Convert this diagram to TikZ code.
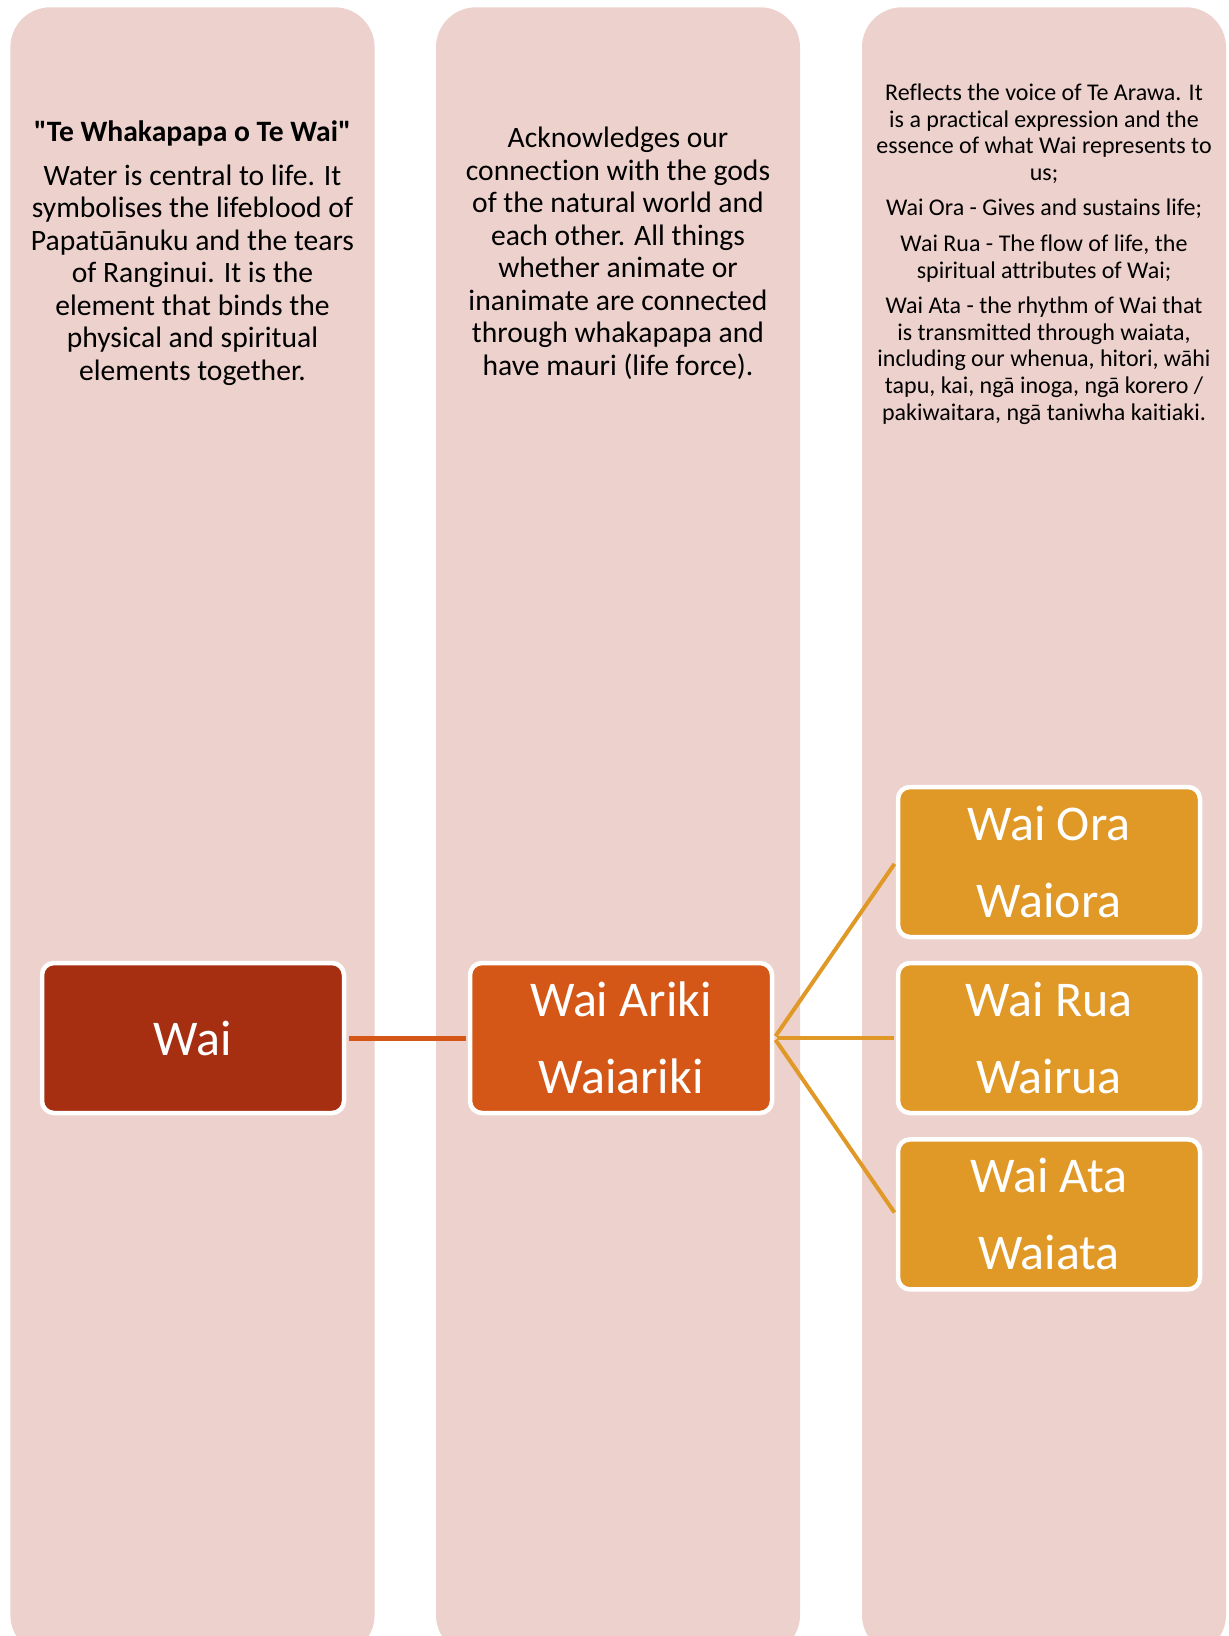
\documentclass[tikz,border=0pt]{standalone}
\usepackage{fontspec}
\newfontfamily\carlito{Carlito}[Ligatures=NoCommon]
\usetikzlibrary{positioning}
\definecolor{colpink}{HTML}{EDD1CC}
\definecolor{waired}{HTML}{A52F10}
\definecolor{arikiorange}{HTML}{D45717}
\definecolor{leafgold}{HTML}{E09827}

\begin{document}
\begin{tikzpicture}[
  x=1pt, y=-1pt,
  column/.style={fill=colpink, rounded corners=40pt},
  coltext/.style={align=center, inner sep=0pt, font=\carlito\fontsize{29.6}{32.5}\selectfont},
  smalltext/.style={align=center, inner sep=0pt, font=\carlito\fontsize{24}{26.6}\selectfont},
  waibox/.style={draw=white, line width=4.5pt, rounded corners=12pt, minimum width=302pt, minimum height=150pt, text=white, align=center, font=\carlito\fontsize{50}{77}\selectfont},
  link/.style={line width=5pt, shorten <=2.25pt, shorten >=2.25pt},
]
  \useasboundingbox (0,0) rectangle (1229,1636);
  \clip (0,0) rectangle (1229,1636);

  \fill[column] (10.4,7.3) rectangle (374.6,1655);
  \fill[column] (436,7.3) rectangle (800,1655);
  \fill[column] (862,7.3) rectangle (1226,1655);

  \node[coltext] (whakapapa) at (192.5,253) {\textbf{"Te Whakapapa o Te Wai"}\\[11.5pt]
    Water is central to life. It\\ symbolises the lifeblood of\\ Papatūānuku and the tears\\
    of Ranginui. It is the\\ element that binds the\\ physical and spiritual\\ elements together.};
  \node[coltext] (acknowledges) at (618,253.5) {Acknowledges our\\ connection with the gods\\
    of the natural world and\\ each other. All things\\ whether animate or\\
    inanimate are connected\\ through whakapapa and\\ have mauri (life force).};
  \node[smalltext] (reflects) at (1044,254) {Reflects the voice of Te Arawa. It\\
    is a practical expression and the\\ essence of what Wai represents to\\ us;\\[9pt]
    Wai Ora - Gives and sustains life;\\[9pt]
    Wai Rua - The flow of life, the\\ spiritual attributes of Wai;\\[9pt]
    Wai Ata - the rhythm of Wai that\\ is transmitted through waiata,\\
    including our whenua, hitori, wāhi\\ tapu, kai, ngā inoga, ngā korero /\\
    pakiwaitara, ngā taniwha kaitiaki.};

  \node[waibox, fill=waired] (wai) at (193,1038) {Wai};
  \node[waibox, fill=arikiorange] (ariki) at (621,1038) {Wai Ariki\\ Waiariki};
  \node[waibox, fill=leafgold] (ora) at (1049,862) {Wai Ora\\ Waiora};
  \node[waibox, fill=leafgold] (rua) at (1049,1038) {Wai Rua\\ Wairua};
  \node[waibox, fill=leafgold] (ata) at (1049,1214.4) {Wai Ata\\ Waiata};

  \draw[link, arikiorange] (wai.east) -- (ariki.west);
  \draw[link, leafgold, line width=4pt] (ariki.east) -- (ora.west);
  \draw[link, leafgold, line width=4pt] (ariki.east) -- (rua.west);
  \draw[link, leafgold, line width=4pt] (ariki.east) -- (ata.west);
\end{tikzpicture}
\end{document}
